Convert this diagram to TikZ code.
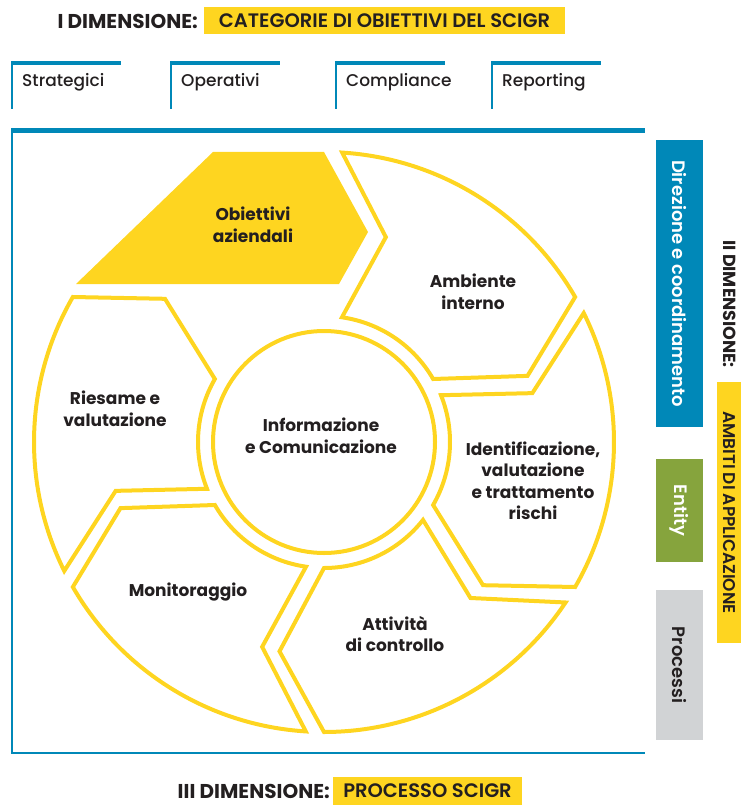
\documentclass[tikz,border=0pt]{standalone}
\usepackage{fontspec}
\setmainfont{Poppins}[UprightFont=* Medium, BoldFont=* Bold]
\newfontfamily\semiboldfont{Poppins}[UprightFont=* SemiBold]
\definecolor{scigryellow}{HTML}{FED520}
\definecolor{scigrblue}{HTML}{0088B8}
\definecolor{scigrgreen}{HTML}{86A43D}
\definecolor{scigrgray}{HTML}{D1D3D5}
\definecolor{scigrtext}{HTML}{231F20}
\tikzset{
  segment/.style={draw=scigryellow, line width=4pt},
  phase/.style={text=scigrtext, font=\fontsize{17}{21.5}\selectfont\bfseries, align=center},
  tabtop/.style={draw=scigrblue, line width=4pt},
  tabside/.style={draw=scigrblue, line width=2.5pt},
  tabtext/.style={text=scigrtext, font=\fontsize{17}{20}\selectfont, anchor=west, inner sep=0pt},
  dimtitle/.style={text=scigrtext, font=\fontsize{20}{24}\selectfont\bfseries, inner sep=0pt},
  highlight/.style={fill=scigryellow, text=scigrtext, font=\fontsize{19.5}{24}\selectfont\semiboldfont, inner sep=0pt, minimum height=27pt},
  ambito/.style={rotate=-90, minimum height=47pt, inner sep=0pt, font=\fontsize{18}{20}\selectfont\semiboldfont}
}

\begin{document}
\begin{tikzpicture}[x=1pt, y=-1pt]
  \useasboundingbox (0,0) rectangle (741,805);

  % I dimensione
  \node (dimuno) [dimtitle, anchor=east] at (198,21) {I DIMENSIONE:};
  \node (categorie) [highlight, minimum width=361pt] at (384.5,20.5) {CATEGORIE DI OBIETTIVI DEL SCIGR};
  \foreach \x/\name/\txt in {11/strategici/Strategici, 170/operativi/Operativi, 335/compliance/Compliance, 491/reporting/Reporting}{
    \draw[tabtop] (\x,63) -- ++(110,0);
    \draw[tabside] (\x+1.2,61) -- ++(0,48);
    \node (\name) [tabtext] at (\x+11,82) {\txt};
  }

  % cornice
  \draw[tabtop, line width=5pt] (11,130.5) -- (645,130.5);
  \draw[tabside] (12,128) -- (12,753) -- (645,753);

  % obiettivi
  \fill[scigryellow] (213,152) -- (324,152) -- (368,232) -- (339,284) -- (76,284) -- cycle;
  \node (obiettivi) [phase] at (253,225) {Obiettivi\\aziendali};

  % ciclo
  \begin{scope}[shift={(324,442)}, yscale=-1]
    \foreach \b in {30,-30,-90,-150,-210}{
      \pgfmathsetmacro{\ao}{\b+60-3.6}
      \pgfmathsetmacro{\am}{\b+60-12-4.8}
      \pgfmathsetmacro{\ai}{\b+60-8.2}
      \draw[segment] (\ao:290) arc[start angle=\ao, end angle=\b, radius=290]
        -- ({\b-12}:214) -- (\b:126) arc[start angle=\b, end angle=\ai, radius=126]
        -- (\am:214) -- cycle;
    }
    \draw[segment] (0,0) circle[radius=111];
  \end{scope}
  \node (informazione) [phase] at (321,436) {Informazione\\e Comunicazione};
  \node (ambiente) [phase] at (473,292) {Ambiente\\interno};
  \node (identificazione) [phase] at (533,481) {Identificazione,\\valutazione\\e trattamento\\rischi};
  \node (attivita) [phase] at (395,634) {Attività\\di controllo};
  \node (monitoraggio) [phase] at (188,592) {Monitoraggio};
  \node (riesame) [phase] at (115,409) {Riesame e\\valutazione};

  % II dimensione
  \node (direzione) [ambito, fill=scigrblue, text=white, minimum width=287pt] at (679.5,283.5) {Direzione e coordinamento};
  \node (entity) [ambito, fill=scigrgreen, text=white, minimum width=103pt] at (679.5,510.5) {Entity};
  \node (processi) [ambito, fill=scigrgray, text=scigrtext, minimum width=150pt] at (679.5,665) {Processi};
  \node (dimdue) [dimtitle, rotate=-90, font=\fontsize{17.5}{20}\selectfont\bfseries] at (730,304) {II DIMENSIONE:};
  \node (ambiti) [highlight, rotate=-90, minimum width=261pt, minimum height=24pt, font=\fontsize{17}{20}\selectfont\semiboldfont] at (729,512.5) {AMBITI DI APPLICAZIONE};

  % III dimensione
  \node (dimtre) [dimtitle, anchor=east] at (330,791.5) {III DIMENSIONE:};
  \node (processo) [highlight, minimum width=189pt, minimum height=28pt] at (427.5,791) {PROCESSO SCIGR};
\end{tikzpicture}
\end{document}
